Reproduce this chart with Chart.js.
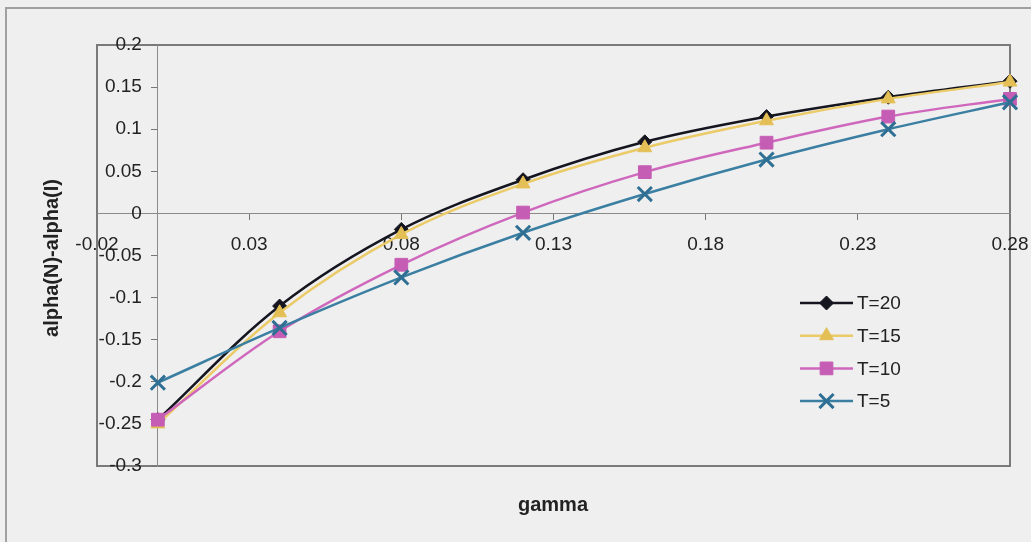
<!DOCTYPE html>
<html>
<head>
<meta charset="utf-8">
<title>alpha(N)-alpha(I) vs gamma</title>
<script src="https://cdn.jsdelivr.net/npm/chart.js@4.4.0/dist/chart.umd.min.js"></script>
<style>
  html, body { margin: 0; padding: 0; background: #efefef; }
  #wrap { width: 1031px; height: 542px; }
</style>
</head>
<body>
<div id="wrap"><canvas id="gammaChart" width="1031" height="542"></canvas></div>
<script>
// gamma values (x) shared by every series
const gammaValues = [0, 0.04, 0.08, 0.12, 0.16, 0.20, 0.24, 0.28];

// alpha(N)-alpha(I) for each T
const seriesT20 = [-0.245, -0.110, -0.019, 0.040, 0.085, 0.115, 0.138, 0.157];
const seriesT15 = [-0.250, -0.118, -0.025, 0.035, 0.078, 0.110, 0.136, 0.156];
const seriesT10 = [-0.245, -0.140, -0.061, 0.001, 0.049, 0.084, 0.115, 0.136];
const seriesT5  = [-0.201, -0.136, -0.076, -0.023, 0.023, 0.064, 0.100, 0.132];

const seriesLabels = ['T=20', 'T=15', 'T=10', 'T=5'];

const xTickValues = [-0.02, 0.03, 0.08, 0.13, 0.18, 0.23, 0.28];
const yTickValues = [-0.3, -0.25, -0.2, -0.15, -0.1, -0.05, 0, 0.05, 0.1, 0.15, 0.2];

const xAxisTitle = 'gamma';
const yAxisTitle = 'alpha(N)-alpha(I)';

const FONT = "'Liberation Sans', Arial, sans-serif";
const fmt = v => String(Number(v.toFixed(2)));
const toPoints = ys => ys.map((y, i) => ({x: gammaValues[i], y}));

const Y_TICK_LEN = 6;
const Y_TICK_PAD = 10;

function lineSet(label, data, color, fill, style, radius, order) {
    return {
        label,
        data: toPoints(data),
        borderColor: color,
        backgroundColor: fill,
        borderWidth: 2.5,
        pointStyle: style,
        pointRadius: radius,
        pointHoverRadius: radius,
        pointBackgroundColor: fill,
        pointBorderColor: fill,
        pointBorderWidth: style === 'crossRot' ? 3 : 1,
        tension: 0.35,
        clip: false,
        order
    };
}

// page background, outer frame and plot frame (under the axes)
const framePlugin = {
    id: 'frames',
    beforeDraw(chart) {
        const {ctx, chartArea: a} = chart;
        ctx.save();
        ctx.fillStyle = '#efefef';
        ctx.fillRect(0, 0, chart.width, chart.height);
        ctx.strokeStyle = '#a0a0a0';
        ctx.lineWidth = 2;
        ctx.strokeRect(6, 8, chart.width + 40, chart.height + 40);
        ctx.strokeStyle = '#7a7a7a';
        ctx.lineWidth = 2;
        ctx.strokeRect(a.left, a.top, a.right - a.left, a.bottom - a.top);
        ctx.restore();

        // a y axis placed at x=0 puts its labels right on the line; move them out past the ticks
        chart.scales.y.getLabelItems().forEach(item => {
            if (!item._moved) {
                item.options.translation[0] -= Y_TICK_LEN + Y_TICK_PAD;
                item._moved = true;
            }
        });
    }
};

function drawMarker(ctx, ds, x, y) {
    const opts = {pointStyle: ds.pointStyle, rotation: 0, radius: ds.pointRadius, borderWidth: ds.pointBorderWidth};
    ctx.fillStyle = ds.pointBackgroundColor;
    ctx.strokeStyle = ds.pointBorderColor;
    ctx.lineWidth = ds.pointBorderWidth;
    Chart.helpers.drawPoint(ctx, opts, x, y);
}

// legend box sitting inside the plot, lower right
const legendPlugin = {
    id: 'sideLegend',
    afterDatasetsDraw(chart) {
        const ctx = chart.ctx;
        const x0 = 800, x1 = 853, top = 303, gap = 32.7;
        ctx.save();
        chart.data.datasets.forEach((ds, i) => {
            const y = top + i * gap;
            ctx.strokeStyle = ds.borderColor;
            ctx.lineWidth = ds.borderWidth;
            ctx.beginPath();
            ctx.moveTo(x0, y);
            ctx.lineTo(x1, y);
            ctx.stroke();
            drawMarker(ctx, ds, (x0 + x1) / 2, y);
            ctx.fillStyle = '#222';
            ctx.font = `19px ${FONT}`;
            ctx.textAlign = 'left';
            ctx.textBaseline = 'middle';
            ctx.fillText(ds.label, x1 + 4, y + 1);
        });
        ctx.restore();
    }
};

// axis titles
const titlePlugin = {
    id: 'axisTitles',
    afterDraw(chart) {
        const ctx = chart.ctx;
        ctx.save();
        ctx.fillStyle = '#222';
        ctx.font = `bold 20px ${FONT}`;
        ctx.textAlign = 'center';
        ctx.textBaseline = 'middle';
        ctx.fillText(xAxisTitle, 553, 505);
        ctx.translate(52, 258);
        ctx.rotate(-Math.PI / 2);
        ctx.fillText(yAxisTitle, 0, 0);
        ctx.restore();
    }
};

const tickFont = {family: FONT, size: 19};
const noEdgePadding = s => { s.paddingLeft = 0; s.paddingRight = 0; s.paddingTop = 0; s.paddingBottom = 0; };

new Chart(document.getElementById('gammaChart').getContext('2d'), {
    type: 'line',
    data: {
        datasets: [
            lineSet(seriesLabels[0], seriesT20, '#15151f', '#15151f', 'rectRot', 7, 4),
            lineSet(seriesLabels[1], seriesT15, '#ebca68', '#e3bf55', 'triangle', 8, 3),
            lineSet(seriesLabels[2], seriesT10, '#cf68bd', '#c65db5', 'rect', 9, 2),
            lineSet(seriesLabels[3], seriesT5, '#3a7fa2', '#2e6f93', 'crossRot', 10, 1)
        ]
    },
    options: {
        responsive: false,
        animation: false,
        layout: {padding: {left: 97, right: 21, top: 45, bottom: 76}},
        plugins: {legend: {display: false}, tooltip: {enabled: false}},
        scales: {
            x: {
                type: 'linear',
                position: {y: 0},
                min: -0.02,
                max: 0.28,
                afterBuildTicks: s => { s.ticks = xTickValues.map(v => ({value: v})); },
                afterFit: noEdgePadding,
                grid: {drawOnChartArea: false, drawTicks: true, tickLength: 6, color: '#777'},
                border: {display: true, color: '#8a8a8a', width: 1},
                ticks: {font: tickFont, color: '#222', padding: 14, maxRotation: 0, autoSkip: false, callback: v => fmt(v)}
            },
            y: {
                type: 'linear',
                position: {x: 0},
                min: -0.3,
                max: 0.2,
                afterBuildTicks: s => { s.ticks = yTickValues.map(v => ({value: v})); },
                afterFit: noEdgePadding,
                grid: {drawOnChartArea: false, drawTicks: true, tickLength: Y_TICK_LEN, color: '#777'},
                border: {display: true, color: '#8a8a8a', width: 1},
                ticks: {font: tickFont, color: '#222', padding: Y_TICK_PAD, autoSkip: false, callback: v => fmt(v)}
            }
        }
    },
    plugins: [framePlugin, legendPlugin, titlePlugin]
});
</script>
</body>
</html>
